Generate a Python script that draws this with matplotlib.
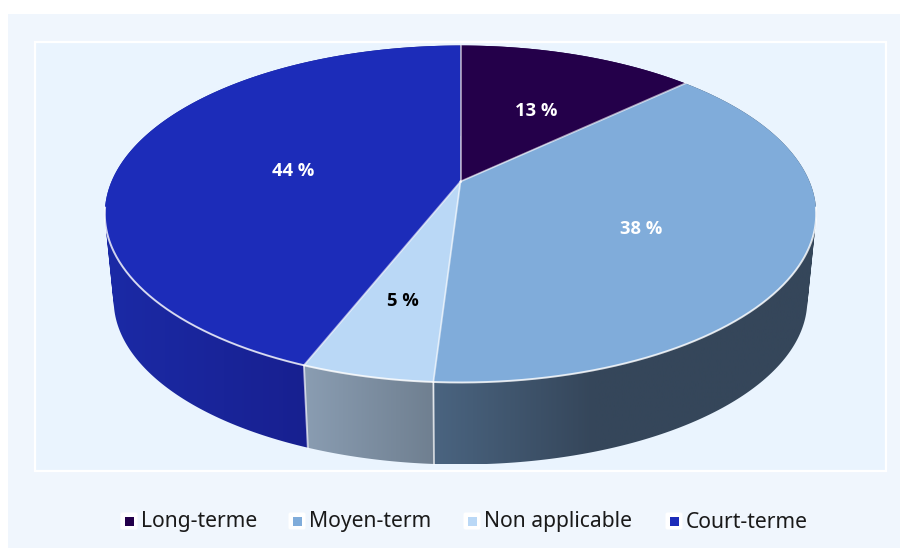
#! /usr/bin/env python3

import numpy as np
import matplotlib.pyplot as plt
from matplotlib.path import Path
from matplotlib.patches import PathPatch, Rectangle, FancyBboxPatch
from matplotlib.colors import LinearSegmentedColormap

plt.rcParams['font.family'] = ['Noto Sans', 'DejaVu Sans']

categories = ['Long-terme', 'Moyen-term', 'Non applicable', 'Court-terme']
values = [13, 38, 5, 44]
colors = ['#24004a', '#80acda', '#bad8f6', '#1c2cb9']
side_left = ['#24004a', '#4a6480', '#8a9db2', '#1b2aa6']
side_right = ['#24004a', '#35465a', '#6f7f90', '#15187f']

label_pos = [(536, 110), (641, 228), (403, 300), (293, 170)]
legend_x = [120, 288, 463, 665]

# pie geometry in pixels, slight perspective
CX = 460.5
CY = 181.5
BX = 349
AY = 162.2
K = 0.193
SHRINK = 0.975
BOTTOM_CY = 268.5


def project(t, cy=CY, scale=1.0):
    u = np.sin(t)
    v = np.cos(t)
    d = 1 + K * v
    return CX + scale * BX * u / d, cy - scale * AY * v / d


def swept_path(t):
    # one quad per step between top and bottom rim, all wound the same way
    xt, yt = project(t)
    xb, yb = project(t, BOTTOM_CY, SHRINK)
    verts = []
    codes = []
    for j in range(len(t) - 1):
        q = [(xt[j], yt[j]), (xt[j + 1], yt[j + 1]), (xb[j + 1], yb[j + 1]), (xb[j], yb[j])]
        area = 0
        for k in range(4):
            area += q[k][0] * q[(k + 1) % 4][1] - q[(k + 1) % 4][0] * q[k][1]
        if area < 0:
            q = q[::-1]
        verts += q + [q[0]]
        codes += [Path.MOVETO, Path.LINETO, Path.LINETO, Path.LINETO, Path.CLOSEPOLY]
    return Path(verts, codes)


fig = plt.figure(figsize=(9, 5.48), dpi=100, facecolor='white')
ax = fig.add_axes([0, 0, 1, 1])
ax.set_xlim(0, 900)
ax.set_ylim(548, 0)
ax.axis('off')

ax.add_patch(Rectangle((8, 14), 892, 534, fc='#f0f6fd', ec='none', zorder=0))
ax.add_patch(Rectangle((35, 42), 851, 429, fc='#eaf4fe', ec='white', lw=1.6, zorder=1))

edges = np.cumsum([0] + values) / sum(values) * 2 * np.pi

# sides first, the gradient goes left to right inside each slice
for i in range(len(values)):
    t = np.linspace(edges[i], edges[i + 1], 200)
    xt, yt = project(t)
    xb, yb = project(t, BOTTOM_CY, SHRINK)
    xs = np.concatenate([xt, xb])
    ys = np.concatenate([yt, yb])
    clip = PathPatch(swept_path(t), fc='none', ec='none', transform=ax.transData)
    ax.add_patch(clip)
    cmap = LinearSegmentedColormap.from_list('s', [side_left[i], side_right[i]])
    ramp = np.linspace(0, 1, 256).reshape(1, -1)
    x0 = xs.min()
    x1 = xs.max()
    if i == 1:
        # moyen-term goes flat after the first part
        x0 = xb.min()
        ramp = np.clip(ramp * (x1 - x0) / 160, 0, 1)
    im = ax.imshow(ramp, cmap=cmap, vmin=0, vmax=1, extent=[x0, x1, ys.max(), ys.min()], aspect='auto', zorder=2)
    im.set_clip_path(clip)

# edges between the sides
for e in [edges[2], edges[3]]:
    x0, y0 = project(e)
    x1, y1 = project(e, BOTTOM_CY, SHRINK)
    ax.plot([x0, x1], [y0, y1], color='white', alpha=0.65, lw=1.4, zorder=3)

ax.set_xlim(0, 900)
ax.set_ylim(548, 0)

# top faces
for i in range(len(values)):
    t = np.linspace(edges[i], edges[i + 1], 200)
    xt, yt = project(t)
    xs = np.concatenate([[CX], xt, [CX]])
    ys = np.concatenate([[CY], yt, [CY]])
    ax.fill(xs, ys, fc=colors[i], ec='none', zorder=4)

# separators on the top face
for e in edges[:-1]:
    x0, y0 = project(e)
    ax.plot([CX, x0], [CY, y0], color='white', alpha=0.6, lw=1.3, zorder=5)

# white rim only on the front part
t = np.linspace(np.radians(99), np.radians(261), 400)
xt, yt = project(t)
ax.plot(xt, yt, color='white', alpha=0.8, lw=1.4, zorder=5)

for i in range(len(values)):
    ax.text(label_pos[i][0], label_pos[i][1] + 1.0, str(values[i]) + ' %', color='black' if i == 2 else 'white',
            fontsize=13.2, fontweight='bold', family=['Open Sans', 'DejaVu Sans'], ha='center', va='center', zorder=6)

# legend
for i in range(len(categories)):
    lx = legend_x[i]
    ax.add_patch(FancyBboxPatch((lx + 0.5, 512.5), 17, 17, boxstyle='round,pad=0,rounding_size=2', fc='white', ec='none', zorder=2))
    ax.add_patch(Rectangle((lx + 4.5, 516.7), 9, 9, fc=colors[i], ec='none', zorder=3))
    ax.text(lx + 21, 522, categories[i], color='#1a1a1a', fontsize=15.2, ha='left', va='center', zorder=3)

fig.savefig('out.png', dpi=100, facecolor='white')
